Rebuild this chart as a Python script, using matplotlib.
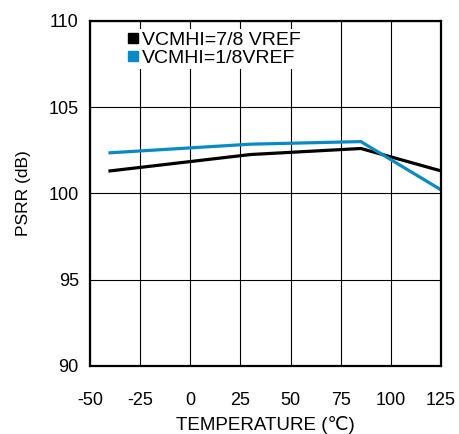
import matplotlib
matplotlib.use("Agg")
import matplotlib.pyplot as plt
from matplotlib.lines import Line2D

plt.rcParams['font.family'] = ['Liberation Sans', 'DejaVu Sans']
plt.rcParams['axes.unicode_minus'] = False

temp_78 = [-40, 30, 85, 125]
psrr_78 = [101.3, 102.25, 102.6, 101.3]
temp_18 = [-40, 30, 85, 125]
psrr_18 = [102.35, 102.85, 103.0, 100.2]
xticks = [-50, -25, 0, 25, 50, 75, 100, 125]
yticks = [90, 95, 100, 105, 110]
labels = ['VCMHI=7/8 VREF', 'VCMHI=1/8VREF']
colors = ['#000000', '#0a8ac4']

fig = plt.figure(figsize=(4.59, 4.34), dpi=100)
ax = fig.add_axes([0.196, 0.157, 0.765, 0.795])

ax.plot(temp_78, psrr_78, color=colors[0], lw=2.3, solid_joinstyle='miter', zorder=3)
ax.plot(temp_18, psrr_18, color=colors[1], lw=2.3, solid_joinstyle='miter', zorder=3)

ax.set_xlim(-50, 125)
ax.set_ylim(90, 110)
ax.set_xticks(xticks)
ax.set_yticks(yticks)
ax.grid(True, color='black', lw=0.8)
ax.tick_params(length=0, labelsize=13)
ax.tick_params(axis='x', pad=19)
ax.tick_params(axis='y', pad=8)
for s in ax.spines.values():
    s.set_linewidth(1.6)
    s.set_zorder(4)

ax.set_xlabel('TEMPERATURE (\u2103)', fontsize=13.5, labelpad=5)
ax.set_ylabel('PSRR (dB)', fontsize=12.5, labelpad=13)

handles = [Line2D([], [], ls='none', marker='s', markersize=7, color=c) for c in colors]
leg = ax.legend(handles, labels, loc='upper left', bbox_to_anchor=(0.099, 0.975),
                frameon=True, fontsize=14, handlelength=0.6, handletextpad=0.2,
                labelspacing=0.0, borderaxespad=0, borderpad=0.1)
leg.get_frame().set_facecolor('white')
leg.get_frame().set_edgecolor('none')
leg.get_frame().set_alpha(1)
leg.get_frame().set_boxstyle('square', pad=0)
leg.set_zorder(5)

fig.savefig('out.png', dpi=100)
